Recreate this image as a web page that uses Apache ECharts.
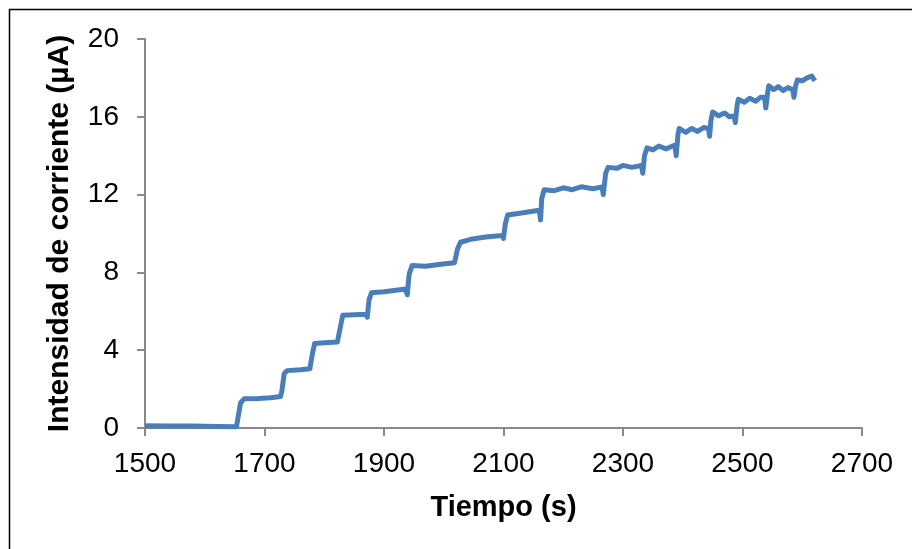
<!DOCTYPE html>
<html>
<head>
<meta charset="utf-8">
<script src="https://cdn.jsdelivr.net/npm/echarts@6/dist/echarts.min.js"></script>
<style>
  html, body { margin: 0; padding: 0; background: #fff; }
  #grafica { width: 912px; height: 549px; }
</style>
</head>
<body>
<div id="grafica"></div>
<script>
// tiempo (s) y corriente (uA)
var tiempo = [1500, 1540, 1580, 1620, 1653, 1656, 1660, 1666, 1690, 1710, 1727,
  1729, 1733, 1738, 1760, 1776, 1778,
  1780, 1784, 1800, 1822, 1824,
  1827, 1831, 1850, 1870, 1872,
  1875, 1879, 1900, 1920, 1936, 1939,
  1942, 1947, 1970, 1995, 2018, 2020,
  2023, 2028, 2045, 2070, 2098, 2100,
  2103, 2107, 2130, 2160, 2162,
  2164, 2168, 2185, 2200, 2215, 2230, 2250, 2265, 2267,
  2271, 2275, 2290, 2300, 2315, 2331, 2333,
  2336, 2340, 2350, 2360, 2372, 2387, 2389,
  2392, 2394, 2405, 2415, 2425, 2435, 2443, 2445,
  2447, 2450, 2460, 2470, 2478, 2486, 2488,
  2491, 2493, 2503, 2512, 2522, 2530, 2537, 2539,
  2542, 2544, 2552, 2560, 2568, 2576, 2584, 2586,
  2589, 2592, 2600, 2608, 2616, 2621];
var corriente = [0.12, 0.1, 0.1, 0.08, 0.06, 0.6, 1.3, 1.5, 1.52, 1.56, 1.62,
  1.9, 2.8, 2.95, 3.0, 3.05, 3.0,
  3.8, 4.35, 4.38, 4.42, 4.4,
  5.2, 5.8, 5.82, 5.85, 5.7,
  6.6, 6.95, 7.0, 7.08, 7.15, 6.85,
  7.9, 8.35, 8.32, 8.42, 8.5, 8.45,
  9.2, 9.55, 9.7, 9.82, 9.9, 9.75,
  10.5, 10.95, 11.05, 11.2, 10.7,
  11.8, 12.25, 12.2, 12.35, 12.25, 12.4, 12.3, 12.4, 12.0,
  13.1, 13.4, 13.35, 13.5, 13.4, 13.5, 13.1,
  14.0, 14.4, 14.3, 14.5, 14.35, 14.55, 14.0,
  15.1, 15.4, 15.2, 15.4, 15.25, 15.45, 15.4, 15.0,
  15.8, 16.25, 16.05, 16.2, 16.0, 16.05, 15.7,
  16.6, 16.9, 16.75, 16.95, 16.8, 17.0, 17.0, 16.45,
  17.2, 17.6, 17.4, 17.55, 17.35, 17.5, 17.4, 17.0,
  17.6, 17.9, 17.85, 18.0, 18.1, 17.85];
var ejeX = [1500, 2700, 200];
var ejeY = [0, 20, 4];

var puntos = tiempo.map(function (t, i) { return [t, corriente[i]]; });

var dom = document.getElementById("grafica");
var myChart = echarts.init(dom);
var gris = '#898989';
var fuente = '"Liberation Sans", Arial, sans-serif';

var option = {
  animation: false,
  backgroundColor: '#fff',
  graphic: [{
    type: 'rect',
    shape: { x: 9.5, y: 9.5, width: 1000, height: 1000 },
    style: { fill: 'none', stroke: '#000', lineWidth: 1.5 },
    silent: true
  }],
  grid: { left: 145, right: 50, top: 39, bottom: 121 },
  xAxis: {
    type: 'value',
    min: ejeX[0], max: ejeX[1], interval: ejeX[2],
    name: 'Tiempo (s)',
    nameLocation: 'middle',
    nameGap: 65,
    nameTextStyle: { fontFamily: fuente, fontWeight: 'bold', fontSize: 29, color: '#000' },
    axisLine: { lineStyle: { color: gris, width: 2 } },
    axisTick: { inside: false, length: 8, lineStyle: { color: gris, width: 2 } },
    axisLabel: { fontFamily: fuente, fontSize: 28, color: '#000', margin: 22,
      formatter: function (v) { return String(v); } },
    splitLine: { show: false }
  },
  yAxis: {
    type: 'value',
    min: ejeY[0], max: ejeY[1], interval: ejeY[2],
    name: 'Intensidad de corriente (µA)',
    nameLocation: 'middle',
    nameGap: 70,
    nameTextStyle: { fontFamily: fuente, fontWeight: 'bold', fontSize: 30, color: '#000' },
    axisLine: { show: true, lineStyle: { color: gris, width: 2 } },
    axisTick: { show: true, length: 8, lineStyle: { color: gris, width: 2 } },
    axisLabel: { fontFamily: fuente, fontSize: 28, color: '#000', margin: 26 },
    splitLine: { show: false }
  },
  series: [{
    type: 'line',
    data: puntos,
    showSymbol: false,
    smooth: false,
    lineStyle: { color: '#4a7ebb', width: 5, join: 'round' },
    itemStyle: { color: '#4a7ebb' }
  }]
};

if (option && typeof option === "object") {
  myChart.setOption(option, true);
}
</script>
</body>
</html>
